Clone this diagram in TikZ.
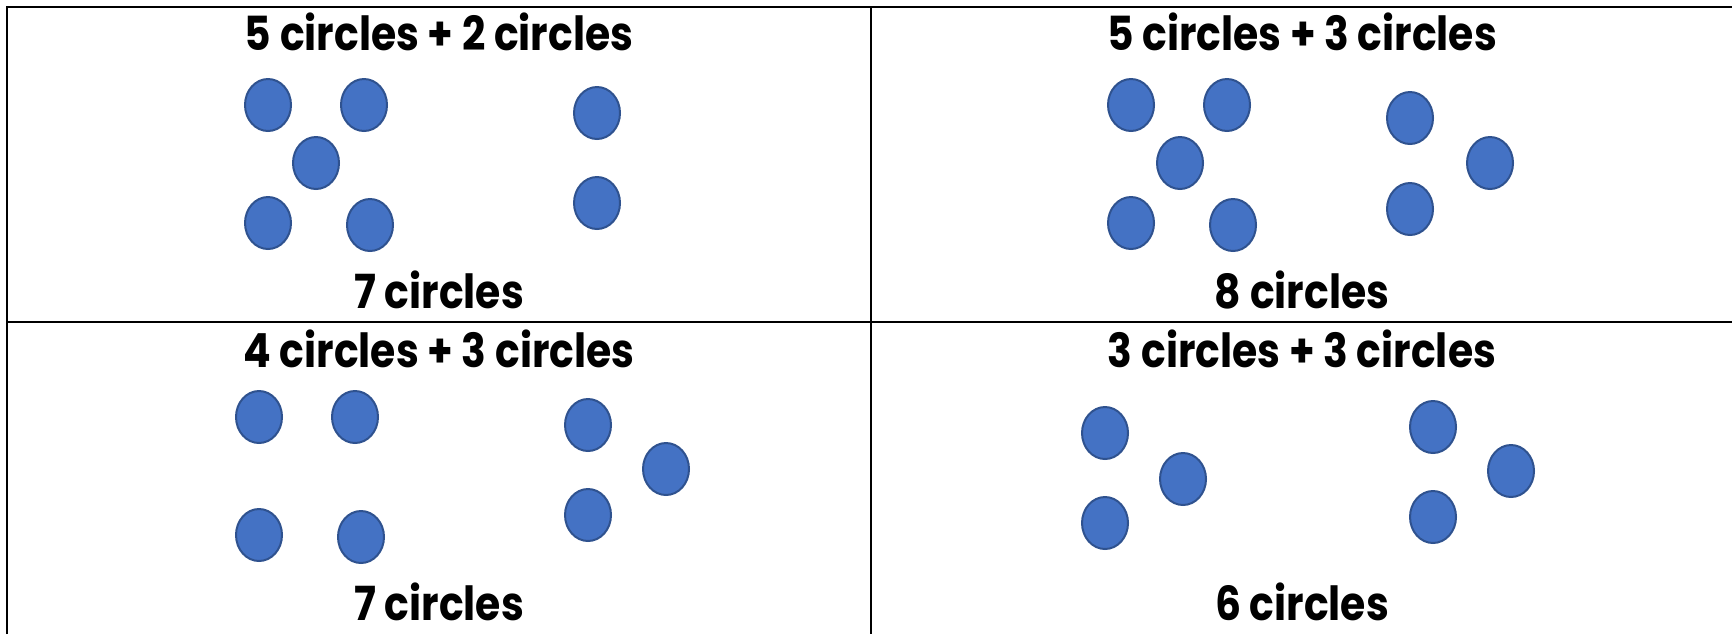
\documentclass[tikz,border=0pt]{standalone}
\usepackage{fontspec}
\setmainfont[FakeStretch=0.87]{Poppins}
\usetikzlibrary{shapes.geometric}
\definecolor{dotfill}{HTML}{4472C4}
\definecolor{dotedge}{HTML}{2F528F}
\tikzset{
    dot/.style = {ellipse, fill=dotfill, draw=dotedge, line width=1pt,
                  minimum width=23pt, minimum height=26pt, inner sep=0pt},
    label/.style = {anchor=base, inner sep=0pt,
                    font=\fontsize{23.5}{28}\selectfont\bfseries}
}
\begin{document}
\begin{tikzpicture}[x=0.5pt, y=-0.5pt]
    \useasboundingbox (0,0) rectangle (1732,634);
    % Table lines
    \draw[line width=1.2pt] (7,634) -- (7,7) -- (1732,7);
    \draw[line width=1.2pt] (7,322) -- (1732,322);
    \draw[line width=1.2pt] (871,7) -- (871,634);

    % Top left: 5 + 2
    \node[label] (tlsum) at (439,50) {5 circles + 2 circles};
    \foreach \x/\y [count=\i] in {268/105, 364/105, 316/163, 268/223, 370/225}
        \node[dot] (tla\i) at (\x,\y) {};
    \foreach \x/\y [count=\i] in {597/113, 597/203}
        \node[dot] (tlb\i) at (\x,\y) {};
    \node[label] (tltotal) at (439,308) {7 circles};

    % Top right: 5 + 3
    \node[label] (trsum) at (1302,50) {5 circles + 3 circles};
    \foreach \x/\y [count=\i] in {1131/105, 1227/105, 1180/163, 1131/223, 1233/225}
        \node[dot] (tra\i) at (\x,\y) {};
    \foreach \x/\y [count=\i] in {1410/118, 1490/163, 1410/209}
        \node[dot] (trb\i) at (\x,\y) {};
    \node[label] (trtotal) at (1302,308) {8 circles};

    % Bottom left: 4 + 3
    \node[label] (blsum) at (439,367) {4 circles + 3 circles};
    \foreach \x/\y [count=\i] in {259/417, 355/417, 259/535, 361/537}
        \node[dot] (bla\i) at (\x,\y) {};
    \foreach \x/\y [count=\i] in {588/425, 666/469, 588/515}
        \node[dot] (blb\i) at (\x,\y) {};
    \node[label] (bltotal) at (439,620) {7 circles};

    % Bottom right: 3 + 3
    \node[label] (brsum) at (1302,367) {3 circles + 3 circles};
    \foreach \x/\y [count=\i] in {1105/433, 1183/479, 1105/523}
        \node[dot] (bra\i) at (\x,\y) {};
    \foreach \x/\y [count=\i] in {1433/427, 1511/471, 1433/517}
        \node[dot] (brb\i) at (\x,\y) {};
    \node[label] (brtotal) at (1302,620) {6 circles};
\end{tikzpicture}
\end{document}
